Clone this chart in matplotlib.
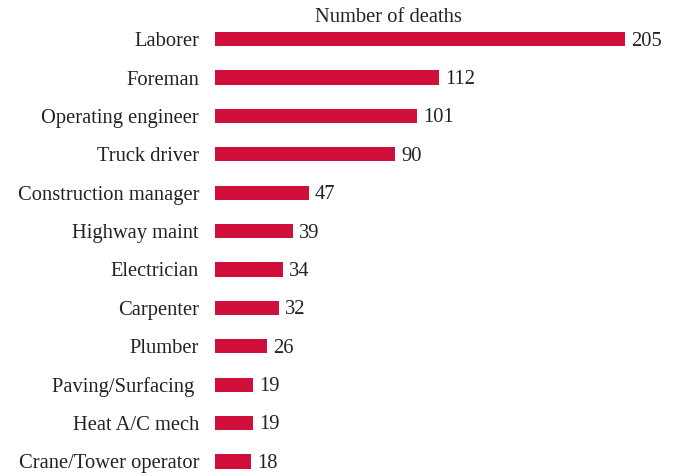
import matplotlib.pyplot as plt

jobs = ['Laborer', 'Foreman', 'Operating engineer', 'Truck driver',
        'Construction manager', 'Highway maint', 'Electrician', 'Carpenter',
        'Plumber', 'Paving/Surfacing ', 'Heat A/C mech', 'Crane/Tower operator']
deaths = [205, 112, 101, 90, 47, 39, 34, 32, 26, 19, 19, 18]

plt.rcParams['font.family'] = 'Liberation Serif'

fig = plt.figure(figsize=(6.79, 4.76), dpi=100)
ax = fig.add_axes([215 / 679, 0, 464 / 679, 456 / 476])

pos = list(range(len(jobs)))
ax.barh(pos, deaths, height=0.37, color='#D0103A')
for p, d in zip(pos, deaths):
    ax.text(d + 3, p + 0.05, str(d), va='center', ha='left', fontsize=14.8, color='#222222')

ax.set_xlim(0, 232)
ax.set_ylim(11.38, -0.5)
ax.set_yticks(pos)
ax.set_yticklabels(jobs, fontsize=14.8, color='#222222')
ax.tick_params(axis='y', length=0, pad=11.5)
ax.set_xticks([])
for s in ax.spines.values():
    s.set_visible(False)

fig.text(388 / 679, 1 - 17 / 476, 'Number of deaths', ha='center', va='center',
         fontsize=14.8, color='#222222')

fig.savefig('out.png', dpi=100)
